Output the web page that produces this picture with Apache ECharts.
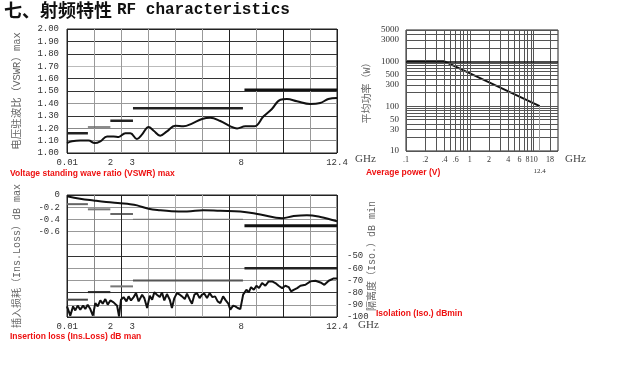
<!DOCTYPE html>
<html>
<head>
<meta charset="utf-8">
<script src="https://cdn.jsdelivr.net/npm/echarts@6.0.0/dist/echarts.min.js"></script>
<style>
    html, body { margin: 0; padding: 0; background: #fff; }
    #chart { width: 625px; height: 378px; }
</style>
</head>
<body>
<div id="chart"></div>
<script>
// ---- values (frequency in GHz) ----

// VSWR max
var vswrFreq  = [0, 0.23, 0.61, 0.99, 1.27, 1.53, 1.84, 2.14, 2.37, 2.68, 2.91, 3.21, 3.44, 3.75, 3.98, 4.28, 4.59, 4.97, 5.35, 5.74, 6.2, 6.58, 7.04, 7.5, 7.81, 8.19, 8.6, 9.03, 9.41, 9.8, 10.1, 10.56, 11.17, 11.63, 12.0, 12.4];
var vswrValue = [1.08, 1.094, 1.10, 1.10, 1.08, 1.094, 1.134, 1.134, 1.13, 1.16, 1.16, 1.113, 1.148, 1.21, 1.18, 1.14, 1.175, 1.22, 1.215, 1.237, 1.274, 1.285, 1.258, 1.215, 1.198, 1.215, 1.215, 1.296, 1.355, 1.43, 1.435, 1.417, 1.395, 1.403, 1.435, 1.444];
// spec limits: [from, to, limit]
var vswrLimit = [[0, 0.96, 1.16], [0.96, 1.99, 1.21], [1.99, 3.03, 1.26], [3.03, 8.08, 1.36], [8.15, 12.4, 1.51]];

// average power
var powerFreq = [0.1, 0.4, 12.4];
var powerWatt = [1000, 1000, 100];

// insertion loss (dB)
var ilFreq  = [0, 0.6, 1.22, 1.8, 2.45, 2.9, 3.22, 3.75, 4.29, 4.8, 5.51, 6.26, 7.04, 7.96, 8.88, 9.88, 10.41, 11.02, 11.64, 12.4];
var ilValue = [-0.02, -0.06, -0.09, -0.115, -0.135, -0.15, -0.17, -0.225, -0.25, -0.265, -0.27, -0.25, -0.26, -0.27, -0.32, -0.38, -0.345, -0.33, -0.36, -0.43];
var ilLimit = [[0, 0.96, -0.15], [0.96, 1.99, -0.235], [1.99, 3.03, -0.31], [3.03, 8.08, -0.4], [8.15, 12.4, -0.505]];

// isolation (dB)
var isoFreq  = [0, 0.15, 0.28, 0.38, 0.49, 0.61, 0.74, 0.84, 0.95, 1.07, 1.19, 1.30, 1.41, 1.53, 1.64, 1.76, 1.87, 1.99, 2.14, 2.30, 2.39, 2.48, 2.60, 2.73, 2.83, 2.94, 3.06, 3.17, 3.29, 3.45, 3.55, 3.68, 3.80, 3.91, 4.01, 4.13, 4.26, 4.36, 4.47, 4.59, 4.72, 4.82, 4.93, 5.05, 5.18, 5.28, 5.41, 5.51, 5.64, 5.74, 5.85, 5.97, 6.09, 6.20, 6.31, 6.43, 6.55, 6.68, 6.80, 6.92, 7.04, 7.17, 7.29, 7.41, 7.50, 7.63, 7.73, 7.84, 7.96, 8.09, 8.24, 8.35, 8.45, 8.58, 8.70, 8.82, 8.96, 9.11, 9.26, 9.42, 9.57, 9.72, 9.88, 10.03, 10.18, 10.29, 10.41, 10.57, 10.72, 10.95, 11.18, 11.41, 11.64, 11.82, 12.02, 12.25, 12.4];
var isoValue = [-91.3, -98.9, -91.3, -94.6, -90.7, -94.0, -90.7, -93.5, -89.9, -93.5, -98.9, -88.6, -91.3, -86.4, -89.1, -85.3, -89.9, -86.4, -88.0, -90.7, -99.5, -85.8, -83.7, -87.2, -83.1, -86.4, -83.7, -80.4, -87.2, -81.7, -84.5, -92.6, -82.6, -85.8, -79.8, -81.7, -83.7, -79.8, -86.4, -81.2, -85.8, -92.6, -84.5, -80.4, -81.7, -83.1, -85.3, -80.9, -85.8, -89.1, -81.7, -80.4, -84.5, -81.7, -80.9, -84.5, -80.4, -83.7, -83.1, -87.2, -88.6, -83.1, -86.4, -89.1, -94.0, -90.7, -91.3, -92.6, -93.5, -81.7, -77.7, -79.8, -75.5, -77.7, -74.4, -76.3, -72.2, -74.4, -70.8, -70.8, -72.2, -74.4, -76.3, -74.4, -75.5, -79.0, -77.7, -76.3, -74.4, -73.6, -70.8, -70.3, -71.7, -73.6, -70.3, -68.4, -68.4];
var isoLimit = [[0, 0.96, -85.8], [0.96, 1.99, -79.6], [1.99, 3.03, -74.9], [3.03, 8.08, -70], [8.15, 12.4, -60]];

// tick labels
var freqTicks = [0.01, 2, 3, 8, 12.4];
var powerFreqLines = [0.1, 0.2, 0.3, 0.4, 0.5, 0.6, 0.7, 0.8, 0.9, 1, 2, 3, 4, 5, 6, 7, 8, 9, 10, 18];
var powerFreqTicks = [0.1, 0.2, 0.4, 0.6, 1, 2, 4, 6, 8, 10, 18];
var powerWattLines = [10, 20, 30, 40, 50, 60, 70, 80, 90, 100, 200, 300, 400, 500, 600, 700, 800, 900, 1000, 2000, 3000, 4000, 5000];
var powerWattTicks = [10, 30, 50, 100, 300, 500, 1000, 3000, 5000];

// ---- look ----
var MONO = "'Liberation Mono', 'Noto Sans CJK SC', monospace";
var SERIF = "'Liberation Serif', serif";
var NAME = "'Liberation Mono', 'Noto Sans CJK SC', sans-serif";
var RED = "'Liberation Sans', Arial, sans-serif";

var vswrLimitStyle = [[2.5, '#222'], [1.5, '#666'], [2.5, '#222'], [2.5, '#222'], [2.5, '#111']];
var ilLimitStyle = [[2, '#666'], [2, '#777'], [1.5, '#333'], [1.2, '#777'], [3, '#111']];
var isoLimitStyle = [[2, '#444'], [2, '#222'], [2, '#777'], [2, '#555'], [2.5, '#222']];

var chart = echarts.init(document.getElementById('chart'), null, {renderer: 'canvas'});

function pairs(xs, ys) {
    var out = [], i;
    for (i = 0; i < xs.length; i++) {
        out.push([xs[i], ys[i]]);
    }
    return out;
}

function limitSeries(limits, styles, xIdx, yIdx) {
    return limits.map(function (seg, i) {
        return {
            type: 'line',
            xAxisIndex: xIdx,
            yAxisIndex: yIdx,
            data: [[seg[0], seg[2]], [seg[1], seg[2]]],
            symbol: 'none',
            silent: true,
            lineStyle: {width: styles[i][0], color: styles[i][1]},
            z: 3
        };
    });
}

function curve(xs, ys, xIdx, yIdx, smooth) {
    return {
        type: 'line',
        xAxisIndex: xIdx,
        yAxisIndex: yIdx,
        data: pairs(xs, ys),
        symbol: 'none',
        smooth: smooth,
        silent: true,
        lineStyle: {width: 2, color: '#111'},
        z: 4
    };
}

function shortFreq(v) {
    return String(v).replace(/^0\./, '.');
}

function caption(text, left, top) {
    return {text: text, left: left, top: top, padding: 0,
        textStyle: {color: '#ee1111', fontSize: 8.5, fontWeight: 'bold', fontFamily: RED}};
}

function unit(left, top) {
    return {text: 'GHz', left: left, top: top, padding: 0,
        textStyle: {color: '#444', fontSize: 11, fontWeight: 'normal', fontFamily: SERIF}};
}

// log-paper grid of the power chart, drawn as mark lines on the log axes
var powerGrid = [];
powerFreqLines.forEach(function (f) {
    var lbl = powerFreqTicks.indexOf(f) > -1;
    powerGrid.push({
        xAxis: f,
        lineStyle: {color: '#555', width: 1, type: 'solid'},
        label: lbl ? {show: true, position: 'start', distance: 5, formatter: shortFreq(f),
            color: '#333', fontSize: 8, fontFamily: SERIF} : {show: false}
    });
});
powerWattLines.forEach(function (w) {
    var lbl = powerWattTicks.indexOf(w) > -1;
    powerGrid.push({
        yAxis: w,
        lineStyle: {color: w === 1000 ? '#111' : '#555', width: w === 1000 ? 1.5 : 1, type: 'solid'},
        label: lbl ? {show: true, position: 'start', distance: 7, formatter: String(w),
            color: '#333', fontSize: 9, fontFamily: SERIF} : {show: false}
    });
});
powerGrid.push([
    {coord: [powerFreq[powerFreq.length - 1], powerWatt[powerWatt.length - 1]],
        lineStyle: {color: '#999', width: 1, type: 'solid'},
        label: {show: true, position: 'end', distance: 17, formatter: '12.4',
            color: '#333', fontSize: 7, fontFamily: SERIF}},
    {coord: [powerFreq[powerFreq.length - 1], 10]}
]);

var gridLook = {show: true, borderColor: '#222', borderWidth: 1, containLabel: false, outerBoundsMode: 'none'};

var tickLabel = {color: '#333', fontSize: 9, fontFamily: MONO};

var option = {
    animation: false,
    backgroundColor: '#fff',
    title: [
        {
            text: '{a|七、射频特性} {b|RF characteristics}',
            left: 4, top: 1, padding: 0,
            textStyle: {
                rich: {
                    a: {fontSize: 18, fontWeight: 'bold', fontFamily: "'Noto Sans CJK SC'", color: '#111'},
                    b: {fontSize: 16, fontWeight: 'bold', fontFamily: MONO, color: '#111'}
                }
            }
        },
        caption('Voltage standing wave ratio (VSWR) max', 10, 169),
        caption('Average power (V)', 366, 168),
        caption('Insertion loss (Ins.Loss) dB man', 10, 332),
        caption('Isolation (Iso.) dBmin', 376, 309),
        unit(355, 154),
        unit(565, 154),
        unit(358, 320)
    ],
    grid: [
        Object.assign({left: 67, top: 29, width: 270, height: 124}, gridLook),
        Object.assign({left: 406, top: 30, width: 152, height: 121}, gridLook),
        Object.assign({left: 67, top: 195, width: 270, height: 122}, gridLook)
    ],
    xAxis: [
        // VSWR: grid lines
        {gridIndex: 0, type: 'value', position: 'bottom', min: 0, max: 12.4, interval: 1.24,
            axisLine: {show: false}, axisTick: {show: false}, axisLabel: {show: false},
            splitLine: {show: true, lineStyle: {width: 1,
                color: ['#222', '#999', '#999', '#999', '#999', '#999', '#222', '#999', '#222', '#999', '#222']}}},
        // VSWR: labels
        {gridIndex: 0, type: 'value', position: 'bottom', min: 0, max: 12.4,
            axisLine: {show: false}, axisTick: {show: false}, splitLine: {show: false},
            axisLabel: Object.assign({customValues: freqTicks, margin: 5}, tickLabel)},
        // power: log frequency
        {gridIndex: 1, type: 'log', logBase: 10, min: 0.1, max: 24,
            axisLine: {show: false}, axisTick: {show: false}, axisLabel: {show: false}, splitLine: {show: false}},
        // loss / isolation: grid lines
        {gridIndex: 2, type: 'value', position: 'bottom', min: 0, max: 12.4, interval: 1.24,
            axisLine: {show: false}, axisTick: {show: false}, axisLabel: {show: false},
            splitLine: {show: true, lineStyle: {width: 1,
                color: ['#222', '#888', '#222', '#aaa', '#aaa', '#aaa', '#222', '#999', '#222', '#999', '#222']}}},
        // loss / isolation: labels
        {gridIndex: 2, type: 'value', position: 'bottom', min: 0, max: 12.4,
            axisLine: {show: false}, axisTick: {show: false}, splitLine: {show: false},
            axisLabel: Object.assign({customValues: freqTicks, margin: 5}, tickLabel)}
    ],
    yAxis: [
        {gridIndex: 0, type: 'value', min: 1, max: 2, interval: 0.1,
            name: '电压驻波比（VSWR）max', nameLocation: 'middle', nameRotate: 90, nameGap: 45,
            nameMoveOverlap: false,
            nameTextStyle: {color: '#666', fontSize: 10.5, fontFamily: NAME},
            axisLine: {show: false}, axisTick: {show: false},
            axisLabel: Object.assign({margin: 8, formatter: function (v) { return v.toFixed(2); }}, tickLabel),
            splitLine: {show: true, lineStyle: {width: 1,
                color: ['#222', '#888', '#888', '#333', '#999', '#333', '#333', '#bbb', '#333', '#333', '#222']}}},
        {gridIndex: 1, type: 'log', logBase: 10, min: 10, max: 5000,
            name: '平均功率（W）', nameLocation: 'middle', nameRotate: 90, nameGap: 34,
            nameMoveOverlap: false,
            nameTextStyle: {color: '#666', fontSize: 10, fontFamily: NAME},
            axisLine: {show: false}, axisTick: {show: false}, axisLabel: {show: false}, splitLine: {show: false}},
        {gridIndex: 2, type: 'value', min: -2, max: 0, interval: 0.2,
            name: '插入损耗（Ins.Loss）dB max', nameLocation: 'middle', nameRotate: 90, nameGap: 45,
            nameMoveOverlap: false,
            nameTextStyle: {color: '#666', fontSize: 10, fontFamily: NAME},
            axisLine: {show: false}, axisTick: {show: false},
            axisLabel: Object.assign({margin: 7, formatter: function (v) {
                if (v < -0.65) { return ''; }
                return v === 0 ? '0' : v.toFixed(1);
            }}, tickLabel),
            splitLine: {show: true, lineStyle: {width: 1,
                color: ['#222', '#999', '#333', '#999', '#999', '#333', '#999', '#999', '#999', '#999', '#222']}}},
        {gridIndex: 2, type: 'value', position: 'right', min: -100, max: 0, interval: 10,
            name: '隔离度（Iso.）dB min', nameLocation: 'middle', nameRotate: 90, nameGap: 30,
            nameMoveOverlap: false,
            nameTextStyle: {color: '#666', fontSize: 10, fontFamily: NAME},
            axisLine: {show: false}, axisTick: {show: false}, splitLine: {show: false},
            axisLabel: Object.assign({margin: 10, formatter: function (v) {
                return v <= -50 ? String(v) : '';
            }}, tickLabel)}
    ],
    series: [].concat(
        limitSeries(vswrLimit, vswrLimitStyle, 0, 0),
        [curve(vswrFreq, vswrValue, 0, 0, 0.4)],
        [{
            type: 'line',
            xAxisIndex: 2,
            yAxisIndex: 1,
            data: pairs(powerFreq, powerWatt),
            symbol: 'none',
            silent: true,
            lineStyle: {width: 2, color: '#111'},
            z: 4,
            markLine: {silent: true, symbol: ['none', 'none'], animation: false,
                emphasis: {disabled: true}, data: powerGrid}
        }],
        limitSeries(ilLimit, ilLimitStyle, 3, 2),
        [curve(ilFreq, ilValue, 3, 2, 0.4)],
        limitSeries(isoLimit, isoLimitStyle, 3, 3),
        [curve(isoFreq, isoValue, 3, 3, false)]
    )
};

chart.setOption(option);
</script>
</body>
</html>
